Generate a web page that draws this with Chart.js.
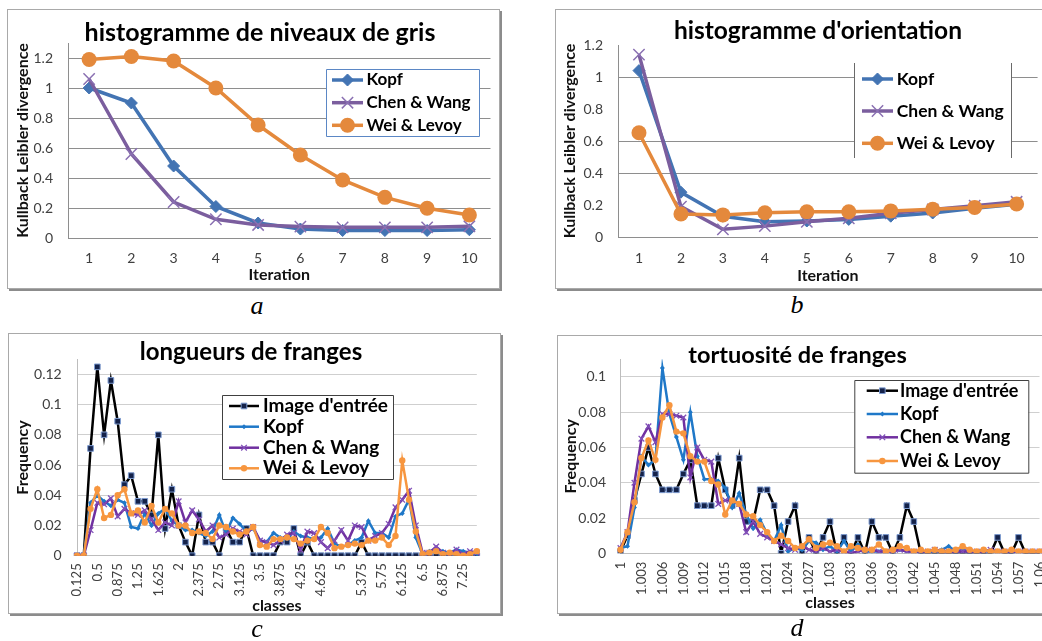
<!DOCTYPE html>
<html><head><meta charset="utf-8">
<script src="https://cdn.jsdelivr.net/npm/chart.js@4.4.1/dist/chart.umd.min.js"></script>
<style>
html,body{margin:0;padding:0;background:#fff;width:1042px;height:641px;overflow:hidden;position:relative;}
.frame{position:absolute;box-sizing:border-box;border:1px solid #a9a9a9;box-shadow:2px 2px 0 #8c8c8c;background:#fff;}
canvas{position:absolute;}
.cap{position:absolute;font-family:"Liberation Serif","DejaVu Serif",serif;font-style:italic;font-size:26px;line-height:26px;color:#000;transform:translateX(-50%);}
</style></head><body>
<div class="frame" style="left:7px;top:9px;width:493px;height:280px"></div>
<div class="frame" style="left:555px;top:9px;width:530px;height:280px"></div>
<div class="frame" style="left:8px;top:333px;width:493px;height:281px"></div>
<div class="frame" style="left:557px;top:335px;width:530px;height:279px"></div>
<canvas id="ca" width="492" height="279" style="left:8px;top:10px"></canvas>
<canvas id="cb" width="520" height="279" style="left:556px;top:10px"></canvas>
<canvas id="cc" width="491" height="282" style="left:9px;top:334px"></canvas>
<canvas id="cd" width="520" height="279" style="left:558px;top:336px"></canvas>
<div class="cap" style="left:257px;top:293px">a</div>
<div class="cap" style="left:797px;top:292px">b</div>
<div class="cap" style="left:257px;top:616px">c</div>
<div class="cap" style="left:797px;top:615px">d</div>
<script>
// ---------- data ----------
const iterations = ['1','2','3','4','5','6','7','8','9','10'];
const grisKopf = [1.00,0.90,0.48,0.21,0.10,0.06,0.05,0.05,0.05,0.055];
const grisChen = [1.06,0.56,0.24,0.125,0.087,0.076,0.071,0.071,0.071,0.078];
const grisWei  = [1.19,1.21,1.18,1.00,0.753,0.553,0.387,0.271,0.198,0.153];
const orientKopf = [1.04,0.28,0.13,0.095,0.10,0.11,0.13,0.15,0.18,0.205];
const orientChen = [1.14,0.19,0.048,0.068,0.095,0.117,0.148,0.172,0.196,0.22];
const orientWei  = [0.652,0.144,0.138,0.152,0.158,0.158,0.163,0.173,0.185,0.206];

const lenClasses = ['0.125','0.25','0.375','0.5','0.625','0.75','0.875','1','1.125','1.25','1.375','1.5','1.625','1.75','1.875','2','2.125','2.25','2.375','2.5','2.625','2.75','2.875','3','3.125','3.25','3.375','3.5','3.625','3.75','3.875','4','4.125','4.25','4.375','4.5','4.625','4.75','4.875','5','5.125','5.25','5.375','5.5','5.625','5.75','5.875','6','6.125','6.25','6.375','6.5','6.625','6.75','6.875','7','7.125','7.25','7.375','7.5'];
const lenInput = [0,0,0.071,0.125,0.080,0.116,0.089,0.047,0.053,0.036, 0.036,0.027,0.080,0.018,0.044,0.020,0.009,0,0.027,0.009, 0.009,0,0.018,0.009,0.009,0.018,0,0,0,0, 0.009,0.009,0.018,0,0.009,0,0,0,0,0, 0,0,0.009,0,0,0,0,0,0,0, 0,0,0,0,0,0,0,0,0,0];
const lenKopf = [0,0,0.035,0.040,0.036,0.033,0.037,0.035,0.019,0.018, 0.028,0.020,0.028,0.031,0.023,0.020,0.017,0.017,0.015,0.013, 0.016,0.027,0.015,0.025,0.021,0.016,0.018,0.010,0.009,0.015, 0.012,0.011,0.016,0.013,0.012,0.011,0.012,0.018,0.008,0.006, 0.007,0.010,0.012,0.023,0.015,0.015,0.012,0.026,0.028,0.037, 0.012,0.001,0.003,0.004,0.003,0.002,0.004,0.003,0.002,0.001];
const lenChen = [0,0,0.017,0.035,0.034,0.038,0.026,0.031,0.028,0.027, 0.030,0.024,0.017,0.022,0.020,0.036,0.022,0.030,0.024,0.016, 0.020,0.012,0.014,0.018,0.016,0.014,0.019,0.010,0.009,0.007, 0.010,0.014,0.015,0.004,0.016,0.015,0.009,0.005,0.010,0.017, 0.010,0.020,0.019,0.010,0.013,0.015,0.021,0.032,0.037,0.043, 0.020,0.002,0.002,0.006,0.002,0.001,0.004,0.001,0.003,0.002];
const lenWei = [0,0,0.031,0.044,0.025,0.027,0.040,0.044,0.028,0.030, 0.022,0.033,0.022,0.031,0.028,0.020,0.020,0.015,0.016,0.015, 0.011,0.020,0.019,0.016,0.014,0.016,0.019,0.007,0.006,0.011, 0.011,0.012,0.011,0.008,0.010,0.011,0.019,0.015,0.005,0.006, 0.007,0.008,0.007,0.010,0.010,0.012,0.007,0.013,0.063,0.037, 0.016,0.001,0.002,0.003,0.001,0.002,0.001,0,0.001,0.003];

const tortClasses = ['1','1.001','1.002','1.003','1.004','1.005','1.006','1.007','1.008','1.009','1.01','1.011','1.012','1.013','1.014','1.015','1.016','1.017','1.018','1.019','1.02','1.021','1.022','1.023','1.024','1.025','1.026','1.027','1.028','1.029','1.03','1.031','1.032','1.033','1.034','1.035','1.036','1.037','1.038','1.039','1.04','1.041','1.042','1.043','1.044','1.045','1.046','1.047','1.048','1.049','1.05','1.051','1.052','1.053','1.054','1.055','1.056','1.057','1.058','1.059','1.06'];
const tortInput = [0.001,0.010,0.030,0.045,0.060,0.045,0.036,0.036,0.036,0.045, 0.053,0.027,0.027,0.027,0.054,0.036,0.027,0.054,0.018,0.018, 0.036,0.036,0.027,0,0.018,0.027,0,0.009,0,0.009, 0.018,0,0.009,0,0.009,0,0.018,0.009,0.009,0, 0.009,0.027,0.018,0,0,0,0,0,0,0, 0,0,0,0,0.009,0,0,0.009,0,0, 0];
const tortKopf = [0.003,0.004,0.026,0.055,0.050,0.053,0.105,0.079,0.066,0.053, 0.080,0.055,0.042,0.042,0.041,0.037,0.026,0.034,0.022,0.014, 0.019,0.011,0.007,0.016,0.001,0.003,0.002,0.007,0.006,0.002, 0.004,0.001,0.007,0.001,0.005,0.001,0.001,0.001,0.001,0.002, 0.002,0.001,0.001,0.001,0.001,0.001,0.002,0.004,0.001,0.002, 0.001,0.001,0.002,0.001,0.001,0.001,0.001,0.001,0.001,0.001, 0.001];
const tortChen = [0.003,0.012,0.040,0.065,0.072,0.063,0.079,0.079,0.078,0.077, 0.043,0.060,0.053,0.052,0.028,0.030,0.030,0.028,0.012,0.018, 0.011,0.009,0.007,0.005,0.003,0.002,0.004,0.002,0.001,0.003, 0.001,0.002,0.001,0,0.001,0.002,0.002,0.001,0.001,0.001, 0.002,0.001,0.001,0.001,0.001,0.002,0.001,0.001,0.001,0.001, 0.001,0.001,0.001,0.002,0.001,0.001,0.001,0.001,0.001,0.001, 0.001];
const tortWei = [0.002,0.012,0.029,0.054,0.064,0.053,0.077,0.084,0.069,0.068, 0.055,0.052,0.052,0.041,0.039,0.022,0.030,0.028,0.022,0.021, 0.016,0.012,0.007,0.010,0.007,0.003,0.004,0.008,0.003,0.005, 0.006,0.004,0.001,0.004,0.003,0.002,0.002,0.005,0.001,0.002, 0.004,0.003,0.001,0.002,0.001,0.002,0.001,0.001,0.002,0.004, 0.002,0.001,0.002,0.001,0.001,0.001,0.002,0.001,0.001,0.001, 0.001];

// ---------- helpers ----------
const F = 'Lato, "Open Sans", "Liberation Sans", sans-serif';

function drawMarker(ctx, ds, x, y) {
  ctx.save();
  ctx.fillStyle = ds.pointBackgroundColor;
  ctx.strokeStyle = ds.pointBorderColor;
  ctx.lineWidth = ds.pointBorderWidth;
  const r = ds.pointRadius, s = ds.pointStyle;
  ctx.beginPath();
  if (s === 'circle') { ctx.arc(x, y, r, 0, Math.PI * 2); ctx.fill(); if (ds.pointBorderWidth) ctx.stroke(); }
  else if (s === 'rectRot') { ctx.moveTo(x, y - r); ctx.lineTo(x + r, y); ctx.lineTo(x, y + r); ctx.lineTo(x - r, y); ctx.closePath(); ctx.fill(); if (ds.pointBorderWidth) ctx.stroke(); }
  else if (s === 'rect') { const h = r * Math.SQRT1_2; ctx.rect(x - h, y - h, 2 * h, 2 * h); ctx.fill(); if (ds.pointBorderWidth) ctx.stroke(); }
  else if (s === 'crossRot') { const d = r * Math.SQRT1_2; ctx.moveTo(x - d, y - d); ctx.lineTo(x + d, y + d); ctx.moveTo(x - d, y + d); ctx.lineTo(x + d, y - d); ctx.stroke(); }
  ctx.restore();
}

const overlay = {
  id: 'overlay',
  afterDraw(chart, args, o) {
    const ctx = chart.ctx;
    ctx.save();
    ctx.font = o.titleFont; ctx.fillStyle = '#000'; ctx.textAlign = 'center'; ctx.textBaseline = 'middle';
    ctx.fillText(o.title, o.titleX, o.titleY);
    const L = o.legend;
    ctx.fillStyle = '#fff'; ctx.fillRect(L.x, L.y, L.w, L.h);
    ctx.strokeStyle = L.color; ctx.lineWidth = 1;
    ctx.beginPath();
    if (L.sides) {
      ctx.moveTo(L.x + 0.5, L.y); ctx.lineTo(L.x + 0.5, L.y + L.h);
      ctx.moveTo(L.x + L.w - 0.5, L.y); ctx.lineTo(L.x + L.w - 0.5, L.y + L.h);
    } else {
      ctx.rect(L.x + 0.5, L.y + 0.5, L.w, L.h);
    }
    ctx.stroke();
    L.order.forEach((di, k) => {
      const ds = chart.data.datasets[di];
      const y = L.ys[k];
      ctx.strokeStyle = ds.borderColor; ctx.lineWidth = ds.borderWidth;
      ctx.beginPath(); ctx.moveTo(L.x0, y); ctx.lineTo(L.x1, y); ctx.stroke();
      drawMarker(ctx, ds, (L.x0 + L.x1) / 2, y);
      ctx.fillStyle = '#000'; ctx.font = L.font; ctx.textAlign = 'left'; ctx.textBaseline = 'middle';
      ctx.fillText(ds.label, L.tx, y);
    });
    ctx.restore();
  }
};

function build(id, o) {
  return new Chart(document.getElementById(id), {
    type: 'line',
    data: { labels: o.labels, datasets: o.datasets },
    options: {
      responsive: false, animation: false, devicePixelRatio: 1,
      layout: { padding: { top: o.padTop, right: o.padRight, bottom: 0, left: 0 } },
      plugins: { legend: { display: false }, tooltip: { enabled: false }, title: { display: false }, overlay: o.overlay },
      elements: { line: { tension: 0 } },
      scales: {
        x: {
          type: 'category', offset: o.offset,
          grid: { display: false, drawTicks: false },
          border: { display: true, color: o.axisColor, width: 1 },
          ticks: {
            autoSkip: false, maxRotation: o.rot, minRotation: o.rot, padding: o.xPad,
            color: '#404040', font: { family: F, size: o.xFont },
            callback: (v, i) => (i % o.every === 0 ? o.labels[i] : '')
          },
          title: { display: true, text: o.xTitle, color: '#111', font: { family: F, size: 16, weight: 'bold' }, padding: { top: 0, bottom: o.xTitlePb } },
          afterFit: s => { s.height = o.xH; }
        },
        y: {
          min: 0, max: o.yMax,
          grid: {
            color: c => (o.hideGrid && o.hideGrid.some(h => Math.abs(h - c.tick.value) < 1e-6)) ? 'rgba(0,0,0,0)' : o.gridColor,
            drawTicks: false, lineWidth: 1
          },
          border: { display: true, color: o.axisColor, width: 1 },
          ticks: {
            stepSize: o.step, includeBounds: false, padding: o.yPad, color: '#404040', font: { family: F, size: o.yFont },
            callback: v => String(Math.round(v * 1000) / 1000)
          },
          afterBuildTicks: s => { s.ticks = s.ticks.filter(t => t.value <= o.yTop + 1e-6); },
          title: { display: true, text: o.yTitle, color: '#111', font: { family: F, size: 16, weight: 'bold' }, padding: { top: o.yTitlePt, bottom: 0 } },
          afterFit: s => { s.width = o.yW; }
        }
      }
    },
    plugins: [overlay]
  });
}

// styles for the top pair (a, b)
const cK = '#4374b3', cC = '#7b5e9e', cW = '#e4893c';
function topSets(k, c, w) {
  return [
    { label: 'Wei & Levoy', data: w, borderColor: cW, borderWidth: 3.5, pointStyle: 'circle', pointRadius: 7.5, pointBackgroundColor: cW, pointBorderColor: cW, pointBorderWidth: 0, fill: false },
    { label: 'Chen & Wang', data: c, borderColor: cC, borderWidth: 3.5, pointStyle: 'crossRot', pointRadius: 8, pointBackgroundColor: cC, pointBorderColor: '#8a70b2', pointBorderWidth: 1.5, fill: false },
    { label: 'Kopf', data: k, borderColor: cK, borderWidth: 3.5, pointStyle: 'rectRot', pointRadius: 6, pointBackgroundColor: cK, pointBorderColor: cK, pointBorderWidth: 1, fill: false }
  ];
}
// styles for the bottom pair (c, d)
const dI = '#000000', dK = '#1f78c8', dC = '#7030a0', dW = '#f7963f';
function botSets(inp, k, c, w) {
  return [
    { label: 'Wei & Levoy', data: w, borderColor: dW, borderWidth: 2.5, pointStyle: 'circle', pointRadius: 3.2, pointBackgroundColor: dW, pointBorderColor: dW, pointBorderWidth: 0, fill: false },
    { label: 'Chen & Wang', data: c, borderColor: dC, borderWidth: 2.5, pointStyle: 'crossRot', pointRadius: 4, pointBackgroundColor: dC, pointBorderColor: '#8050b8', pointBorderWidth: 1.3, fill: false },
    { label: 'Kopf', data: k, borderColor: dK, borderWidth: 2.5, pointStyle: 'rectRot', pointRadius: 2.5, pointBackgroundColor: dK, pointBorderColor: dK, pointBorderWidth: 0, fill: false },
    { label: "Image d'entrée", data: inp, borderColor: dI, borderWidth: 2.5, pointStyle: 'rect', pointRadius: 4, pointBackgroundColor: '#14224a', pointBorderColor: '#7d9bd0', pointBorderWidth: 1, fill: false }
  ];
}

build('ca', {
  labels: iterations, datasets: topSets(grisKopf, grisChen, grisWei), offset: true, rot: 0, every: 1,
  padTop: 33, padRight: 7, yW: 60, xH: 51, yPad: 15, xPad: 11.6, xFont: 14, yFont: 14,
  yTitlePt: 4.9, xTitlePb: 4.4, yMax: 1.3, yTop: 1.2, step: 0.2,
  gridColor: '#8e8e8e', axisColor: '#8e8e8e',
  xTitle: 'Iteration', yTitle: 'Kullback Leibler divergence',
  overlay: { title: 'histogramme de niveaux de gris', titleX: 252, titleY: 23, titleFont: 'bold 25px ' + F,
    legend: { x: 318, y: 59, w: 153, h: 67, color: '#5b87c5', sides: false, order: [2, 1, 0], ys: [70, 92.7, 115.3], x0: 324, x1: 355, tx: 358.5, font: 'bold 17px ' + F } }
});

build('cb', {
  labels: iterations, datasets: topSets(orientKopf, orientChen, orientWei), offset: true, rot: 0, every: 1,
  padTop: 35, padRight: 38.4, yW: 62, xH: 52, yPad: 15, xPad: 12.6, xFont: 14, yFont: 14,
  yTitlePt: 4.4, xTitlePb: 3.4, yMax: 1.2, yTop: 1.2, step: 0.2, hideGrid: [1.2, 0.8, 0.2],
  gridColor: '#8e8e8e', axisColor: '#8e8e8e',
  xTitle: 'Iteration', yTitle: 'Kullback Leibler divergence',
  overlay: { title: "histogramme d'orientation", titleX: 262, titleY: 21, titleFont: 'bold 24.5px ' + F,
    legend: { x: 298, y: 53, w: 158, h: 95, color: '#6a6a6a', sides: true, order: [2, 1, 0], ys: [69, 101, 133.3], x0: 306, x1: 337, tx: 340.7, font: 'bold 17.5px ' + F } }
});

build('cc', {
  labels: lenClasses, datasets: botSets(lenInput, lenKopf, lenChen, lenWei), offset: false, rot: 90, every: 3,
  padTop: 25.3, padRight: 8.3, yW: 68, xH: 60.3, yPad: 15.3, xPad: 7.6, xFont: 13, yFont: 14,
  yTitlePt: 4.1, xTitlePb: 0.4, yMax: 0.13, yTop: 0.12, step: 0.02,
  gridColor: '#cfcfcf', axisColor: '#bdbdbd',
  xTitle: 'classes', yTitle: 'Frequency',
  overlay: { title: 'longueurs de franges', titleX: 242, titleY: 18, titleFont: 'bold 24px ' + F,
    legend: { x: 213, y: 61, w: 171, h: 84, color: '#404040', sides: false, order: [3, 2, 1, 0], ys: [72, 92.7, 113.7, 134.3], x0: 220, x1: 250, tx: 254, font: 'bold 19px ' + F } }
});

build('cd', {
  labels: tortClasses, datasets: botSets(tortInput, tortKopf, tortChen, tortWei), offset: false, rot: 90, every: 3,
  padTop: 23.3, padRight: 38.5, yW: 62.5, xH: 61.7, yPad: 14.5, xPad: 8.4, xFont: 13, yFont: 14,
  yTitlePt: 3.1, xTitlePb: 2.1, yMax: 0.11, yTop: 0.1, step: 0.02,
  gridColor: '#cfcfcf', axisColor: '#bdbdbd',
  xTitle: 'classes', yTitle: 'Frequency',
  overlay: { title: 'tortuosité de franges', titleX: 239.5, titleY: 19, titleFont: 'bold 23.5px ' + F,
    legend: { x: 296.3, y: 44, w: 174, h: 92.7, color: '#404040', sides: false, order: [3, 2, 1, 0], ys: [54.7, 78, 101.3, 125], x0: 308.7, x1: 340, tx: 342, font: 'bold 18px ' + F } }
});
</script>
</body></html>
